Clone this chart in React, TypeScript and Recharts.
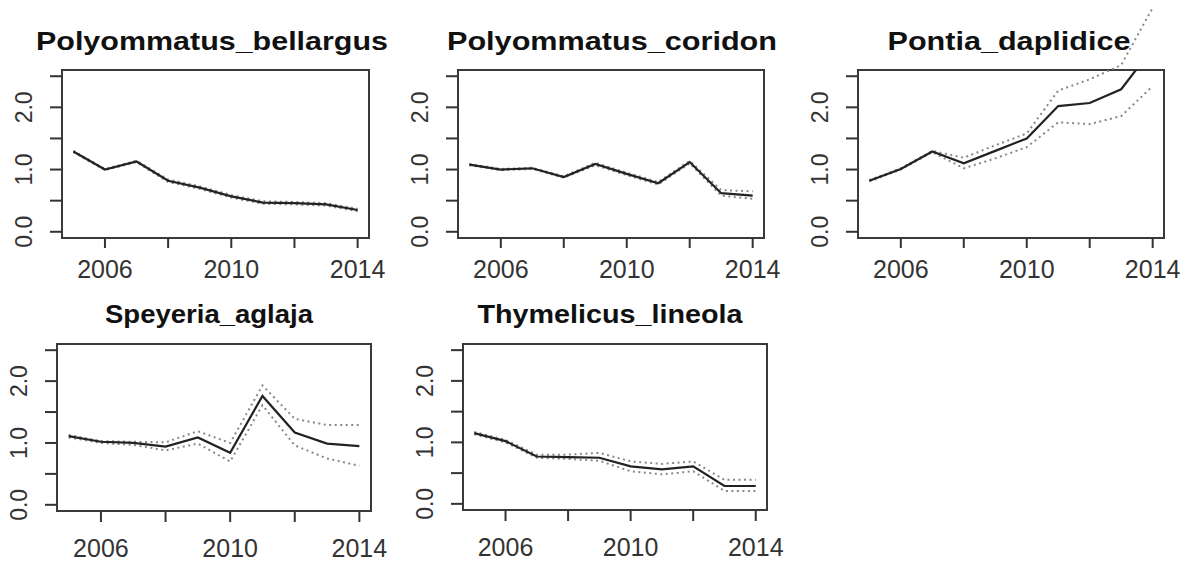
import { LineChart, Line, XAxis, YAxis, ReferenceArea } from "recharts"

const years = [2005, 2006, 2007, 2008, 2009, 2010, 2011, 2012, 2013, 2014]

const bellargusMean = [1.29, 1.0, 1.13, 0.82, 0.71, 0.57, 0.47, 0.46, 0.44, 0.35]
const bellargusUpper = [1.3, 1.01, 1.14, 0.84, 0.73, 0.59, 0.49, 0.48, 0.46, 0.37]
const bellargusLower = [1.28, 0.99, 1.12, 0.8, 0.69, 0.55, 0.45, 0.44, 0.42, 0.33]

const coridonMean = [1.08, 1.0, 1.02, 0.88, 1.09, 0.93, 0.78, 1.12, 0.62, 0.58]
const coridonUpper = [1.09, 1.01, 1.03, 0.89, 1.11, 0.95, 0.8, 1.14, 0.67, 0.65]
const coridonLower = [1.07, 0.99, 1.01, 0.87, 1.07, 0.91, 0.76, 1.1, 0.58, 0.53]

const pontiaMean = [0.82, 1.01, 1.29, 1.1, 1.3, 1.5, 2.02, 2.07, 2.29, 2.95]
const pontiaUpper = [0.83, 1.02, 1.3, 1.19, 1.39, 1.58, 2.27, 2.45, 2.68, 3.6]
const pontiaLower = [0.81, 1.0, 1.28, 1.02, 1.18, 1.36, 1.76, 1.73, 1.86, 2.34]

const speyeriaMean = [1.11, 1.02, 1.0, 0.94, 1.09, 0.84, 1.76, 1.17, 0.99, 0.95]
const speyeriaUpper = [1.13, 1.03, 1.02, 1.01, 1.19, 1.0, 1.93, 1.39, 1.29, 1.29]
const speyeriaLower = [1.09, 1.0, 0.97, 0.88, 0.99, 0.7, 1.61, 0.96, 0.75, 0.63]

const thymelicusMean = [1.15, 1.02, 0.77, 0.76, 0.75, 0.61, 0.56, 0.61, 0.29, 0.29]
const thymelicusUpper = [1.17, 1.04, 0.8, 0.8, 0.83, 0.69, 0.65, 0.69, 0.39, 0.39]
const thymelicusLower = [1.13, 1.0, 0.75, 0.73, 0.7, 0.53, 0.48, 0.53, 0.21, 0.21]

const xTicks = [2006, 2008, 2010, 2012, 2014]
const xLabels = [2006, 2010, 2014]
const yTicks = [0, 0.5, 1, 1.5, 2, 2.5]
const yLabels = [0, 1, 2]

// R pads the axis range by 4%
const X_DOMAIN: [number, number] = [2004.64, 2014.36]
const Y_DOMAIN: [number, number] = [-0.1, 2.6]

const FONT = "'Liberation Sans', Arial, sans-serif"

function rows(mean: number[], upper: number[], lower: number[]) {
  return years.map((year, i) => ({ year, mean: mean[i], upper: upper[i], lower: lower[i] }))
}

const panels = [
  {
    title: "Polyommatus_bellargus",
    data: rows(bellargusMean, bellargusUpper, bellargusLower),
    box: { x1: 62, x2: 369, y1: 70, y2: 238 },
    top: 0, height: 290, labelGap: 40, tickLen: 10,
    titleX: 212, titleY: 50, titleW: 352,
  },
  {
    title: "Polyommatus_coridon",
    data: rows(coridonMean, coridonUpper, coridonLower),
    box: { x1: 458, x2: 764, y1: 70, y2: 238 },
    top: 0, height: 290, labelGap: 40, tickLen: 10,
    titleX: 612, titleY: 50, titleW: 330,
  },
  {
    title: "Pontia_daplidice",
    data: rows(pontiaMean, pontiaUpper, pontiaLower),
    box: { x1: 858, x2: 1164, y1: 70, y2: 238 },
    top: 0, height: 290, labelGap: 40, tickLen: 10,
    titleX: 1009, titleY: 50, titleW: 243,
  },
  {
    title: "Speyeria_aglaja",
    data: rows(speyeriaMean, speyeriaUpper, speyeriaLower),
    box: { x1: 57, x2: 371, y1: 344, y2: 511 },
    top: 280, height: 281, labelGap: 46, tickLen: 11,
    titleX: 209, titleY: 323, titleW: 208,
  },
  {
    title: "Thymelicus_lineola",
    data: rows(thymelicusMean, thymelicusUpper, thymelicusLower),
    box: { x1: 463, x2: 767, y1: 344, y2: 510 },
    top: 280, height: 281, labelGap: 46, tickLen: 11,
    titleX: 610, titleY: 323, titleW: 265,
  },
]

const Y_AXIS_W = 50

function Panel({ p }: { p: (typeof panels)[number] }) {
  const left = p.box.x1 - Y_AXIS_W
  const width = p.box.x2 - left + 30
  const xAxisH = p.top + p.height - p.box.y2

  const xTick = (props: any) => {
    const { x, y, payload } = props
    if (!xLabels.includes(payload.value)) return <g />
    return (
      <text x={x} y={y - p.tickLen + p.labelGap} textAnchor="middle" fontSize={25} fontFamily={FONT} fill="#333">
        {payload.value}
      </text>
    )
  }

  const yTick = (props: any) => {
    const { x, y, payload } = props
    if (!yLabels.includes(payload.value)) return <g />
    return (
      <text
        x={x}
        y={y}
        transform={`rotate(-90 ${x} ${y})`}
        textAnchor="middle"
        fontSize={23}
        fontFamily={FONT}
        fill="#333"
      >
        {Number(payload.value).toFixed(1)}
      </text>
    )
  }

  return (
    <div style={{ position: "absolute", left, top: p.top }}>
      <LineChart
        width={width}
        height={p.height}
        data={p.data}
        margin={{ top: p.box.y1 - p.top, right: 30, bottom: 0, left: 0 }}
      >
        <XAxis
          dataKey="year"
          type="number"
          domain={X_DOMAIN}
          allowDataOverflow
          ticks={xTicks}
          interval={0}
          height={xAxisH}
          axisLine={false}
          tickLine={{ stroke: "#333", strokeWidth: 2 }}
          tickSize={p.tickLen}
          tickMargin={0}
          tick={xTick}
        />
        <YAxis
          type="number"
          domain={Y_DOMAIN}
          allowDataOverflow
          ticks={yTicks}
          interval={0}
          width={Y_AXIS_W}
          axisLine={false}
          tickLine={{ stroke: "#333", strokeWidth: 2 }}
          tickSize={12}
          tickMargin={18}
          tick={yTick}
        />
        <ReferenceArea
          x1={X_DOMAIN[0]}
          x2={X_DOMAIN[1]}
          y1={Y_DOMAIN[0]}
          y2={Y_DOMAIN[1]}
          fill="none"
          stroke="#3a3a3a"
          strokeWidth={2}
        />
        <Line
          className="ci-line"
          dataKey="upper"
          stroke="#888"
          strokeWidth={2}
          strokeDasharray="2 3.5"
          dot={false}
          isAnimationActive={false}
        />
        <Line
          className="ci-line"
          dataKey="lower"
          stroke="#888"
          strokeWidth={2}
          strokeDasharray="2 3.5"
          dot={false}
          isAnimationActive={false}
        />
        <Line dataKey="mean" stroke="#222" strokeWidth={2.2} dot={false} isAnimationActive={false} />
      </LineChart>
    </div>
  )
}

export default function App() {
  return (
    <div style={{ position: "absolute", left: 0, top: 0, width: 1189, height: 561, background: "#fff", overflow: "hidden" }}>
      {/* the dotted bands in R were not clipped to the plot box */}
      <style>{`.ci-line, .ci-line * { clip-path: none !important; }`}</style>
      {panels.map((p) => (
        <Panel key={p.title} p={p} />
      ))}
      <svg width={1189} height={561} style={{ position: "absolute", left: 0, top: 0, pointerEvents: "none" }}>
        {panels.map((p) => (
          <text
            key={p.title}
            x={p.titleX}
            y={p.titleY}
            textAnchor="middle"
            fontSize={25}
            fontWeight="bold"
            fontFamily={FONT}
            fill="#111"
            textLength={p.titleW}
            lengthAdjust="spacingAndGlyphs"
          >
            {p.title}
          </text>
        ))}
      </svg>
    </div>
  )
}
